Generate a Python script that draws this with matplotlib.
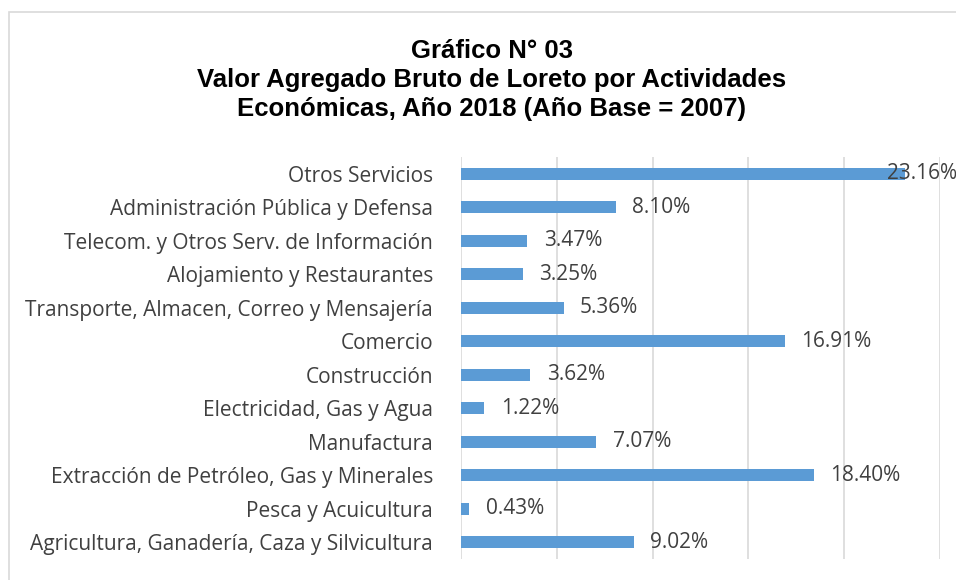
import matplotlib.pyplot as plt
from matplotlib.patches import Rectangle

actividades = [
    'Agricultura, Ganadería, Caza y Silvicultura',
    'Pesca y Acuicultura',
    'Extracción de Petróleo, Gas y Minerales',
    'Manufactura',
    'Electricidad, Gas y Agua',
    'Construcción',
    'Comercio',
    'Transporte, Almacen, Correo y Mensajería',
    'Alojamiento y Restaurantes',
    'Telecom. y Otros Serv. de Información',
    'Administración Pública y Defensa',
    'Otros Servicios',
]
valores = [9.02, 0.43, 18.40, 7.07, 1.22, 3.62, 16.91, 5.36, 3.25, 3.47, 8.10, 23.16]

titulo = 'Gráfico N° 03\nValor Agregado Bruto de Loreto por Actividades\nEconómicas, Año 2018 (Año Base = 2007)'

fig = plt.figure(figsize=(9.56, 5.8), dpi=100)
ax = fig.add_axes([461 / 956, 1 - 559 / 580, (940 - 461) / 956, (559 - 157) / 580])

# marco del grafico
fig.patches.append(Rectangle((9 / 956, -0.05), 1.0, 1 - 12 / 580 + 0.05,
                             transform=fig.transFigure, fill=False,
                             edgecolor='#d9d9d9', linewidth=1.2))

y = range(len(actividades))
ax.barh(y, valores, height=0.36, color='#5b9bd5', zorder=3)

for i in range(len(valores)):
    x = valores[i] + 0.85
    if x > 22:
        # no cabe, se monta sobre la barra como en el original
        x = valores[i] - 0.95
    ax.text(x, i, f'{valores[i]:.2f}%', va='center', ha='left',
            fontsize=15, color='#404040', family='Open Sans', zorder=4,
            clip_on=False)

ax.set_xlim(0, 25)
ax.set_ylim(-0.5, len(actividades) - 0.5)
ax.set_xticks([0, 5, 10, 15, 20, 25])
ax.set_xticklabels([])
ax.grid(axis='x', color='#d9d9d9', linewidth=1.2, zorder=0)
ax.set_yticks(list(y))
ax.set_yticklabels(actividades, fontsize=15, color='#404040', family='Open Sans')
ax.tick_params(axis='both', length=0, pad=20)
for s in ax.spines.values():
    s.set_visible(False)

fig.text(492 / 956, 1 - 80 / 580, titulo, ha='center', va='center', fontsize=18.5,
         fontweight='bold', family='Liberation Sans', linespacing=1.28)

fig.savefig('out.png', dpi=100)
